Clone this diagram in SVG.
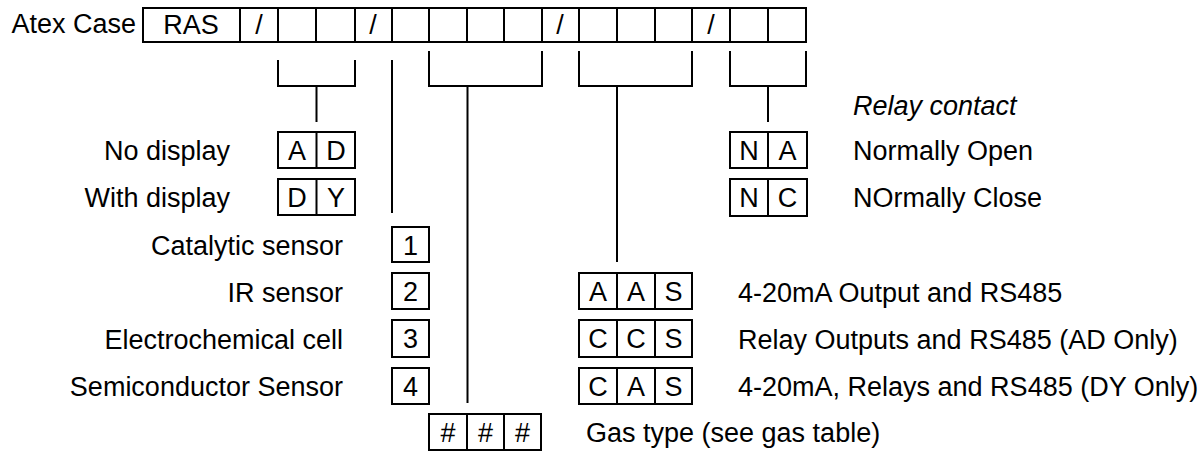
<svg xmlns="http://www.w3.org/2000/svg" width="1202" height="453" viewBox="0 0 1202 453">
<style>
  text { font-family: "Liberation Sans", Arial, sans-serif; font-size: 27px; fill: #000; }
  .c { text-anchor: middle; }
  .r { text-anchor: end; }
  .i { font-style: italic; }
  .box { fill: #fff; stroke: #000; stroke-width: 2; }
  .ln { fill: none; stroke: #000; stroke-width: 2; }
</style>
<rect width="1202" height="453" fill="#fff"/>

<g id="code">
  <text x="136" y="33" class="r">Atex Case</text>
  <rect class="box" x="143" y="8" width="663" height="34"/>
  <path class="ln" d="M240 8V42M278 8V42M316 8V42M355 8V42M392 8V42M429 8V42M467 8V42M504 8V42M542 8V42M579 8V42M617 8V42M655 8V42M692 8V42M730 8V42M768 8V42"/>
  <text x="191" y="34" class="c">RAS</text>
  <text x="259" y="34" class="c">/</text>
  <text x="373" y="34" class="c">/</text>
  <text x="560" y="34" class="c">/</text>
  <text x="711" y="34" class="c">/</text>
</g>

<g id="connectors">
  <path class="ln" d="M278 60V86H355V60M316.5 86V122"/>
  <path class="ln" d="M392 60V213"/>
  <path class="ln" d="M429 51V86H542V51M467.5 86V403"/>
  <path class="ln" d="M579 51V86H692V51M617 86V262"/>
  <path class="ln" d="M730 51V86H806V51M768 86V122"/>
</g>

<g id="display">
  <text x="230" y="160" class="r">No display</text>
  <rect class="box" x="278" y="132" width="77" height="36"/>
  <path class="ln" d="M316.5 132V168"/>
  <text x="297" y="160" class="c">A</text>
  <text x="336" y="160" class="c">D</text>
  <text x="230" y="207" class="r">With display</text>
  <rect class="box" x="278" y="179" width="77" height="36"/>
  <path class="ln" d="M316.5 179V215"/>
  <text x="297" y="207" class="c">D</text>
  <text x="336" y="207" class="c">Y</text>
</g>

<g id="sensor">
  <text x="343" y="255" class="r">Catalytic sensor</text>
  <rect class="box" x="392" y="227" width="37" height="35"/>
  <text x="410.5" y="255" class="c">1</text>
  <text x="343" y="302" class="r">IR sensor</text>
  <rect class="box" x="392" y="273" width="37" height="36"/>
  <text x="410.5" y="301" class="c">2</text>
  <text x="343" y="349" class="r">Electrochemical cell</text>
  <rect class="box" x="392" y="320" width="37" height="37"/>
  <text x="410.5" y="348" class="c">3</text>
  <text x="343" y="396" class="r">Semiconductor Sensor</text>
  <rect class="box" x="392" y="368" width="37" height="36"/>
  <text x="410.5" y="396" class="c">4</text>
</g>

<g id="gas">
  <rect class="box" x="429" y="414" width="112" height="36"/>
  <path class="ln" d="M467 414V450M504 414V450"/>
  <text x="448" y="442" class="c">#</text>
  <text x="485.5" y="442" class="c">#</text>
  <text x="522.5" y="442" class="c">#</text>
  <text x="586" y="442">Gas type (see gas table)</text>
</g>

<g id="output">
  <rect class="box" x="579" y="273" width="113" height="36"/>
  <path class="ln" d="M617 273V309M655 273V309"/>
  <text x="598" y="301" class="c">A</text>
  <text x="636" y="301" class="c">A</text>
  <text x="673.5" y="301" class="c">S</text>
  <text x="738" y="302">4-20mA Output and RS485</text>
  <rect class="box" x="579" y="320" width="113" height="37"/>
  <path class="ln" d="M617 320V357M655 320V357"/>
  <text x="598" y="348" class="c">C</text>
  <text x="636" y="348" class="c">C</text>
  <text x="673.5" y="348" class="c">S</text>
  <text x="738" y="349">Relay Outputs and RS485 (AD Only)</text>
  <rect class="box" x="579" y="368" width="113" height="36"/>
  <path class="ln" d="M617 368V404M655 368V404"/>
  <text x="598" y="396" class="c">C</text>
  <text x="636" y="396" class="c">A</text>
  <text x="673.5" y="396" class="c">S</text>
  <text x="738" y="396">4-20mA, Relays and RS485 (DY Only)</text>
</g>

<g id="relay">
  <text x="853" y="115" class="i">Relay contact</text>
  <rect class="box" x="730" y="132" width="77" height="36"/>
  <path class="ln" d="M768 132V168"/>
  <text x="749" y="160" class="c">N</text>
  <text x="787.5" y="160" class="c">A</text>
  <text x="853" y="160">Normally Open</text>
  <rect class="box" x="730" y="179" width="77" height="37"/>
  <path class="ln" d="M768 179V216"/>
  <text x="749" y="207" class="c">N</text>
  <text x="787.5" y="207" class="c">C</text>
  <text x="853" y="207">NOrmally Close</text>
</g>
</svg>
